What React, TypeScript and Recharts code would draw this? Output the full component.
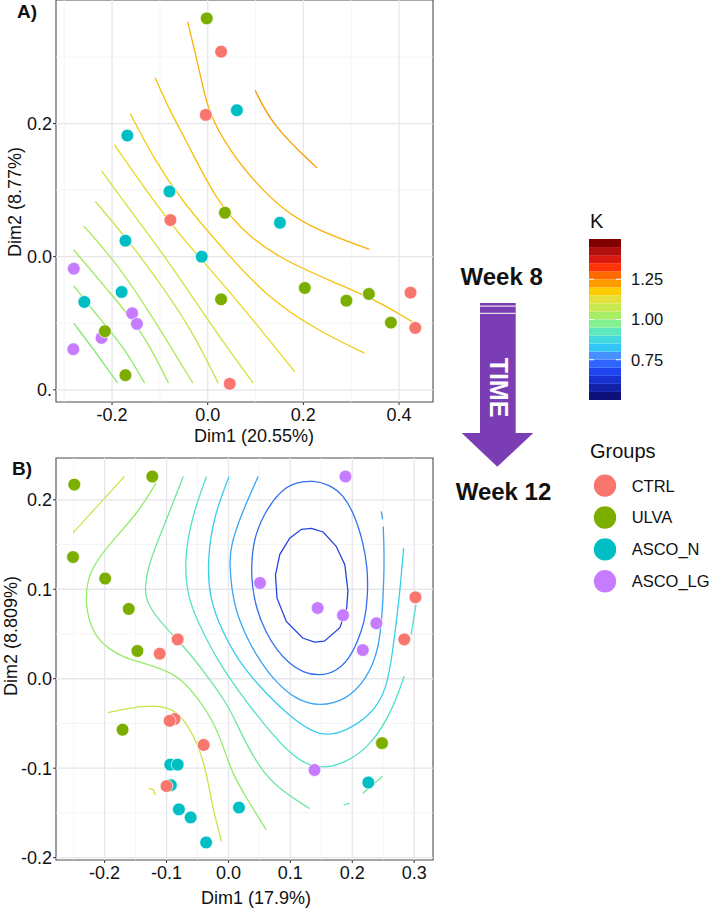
import { ScatterChart, Scatter, XAxis, YAxis, ReferenceLine, ReferenceArea, ComposedChart } from "recharts";

type Pt = [number, number];

// ---------- group colours ----------
const groupNames = ["CTRL", "ULVA", "ASCO_N", "ASCO_LG"];
const groupColors = ["#F8766D", "#7CAE00", "#00BFC4", "#C77CFF"];

// ---------- panel A: week 8 ----------
const ctrlA: Pt[] = [[0.028, 0.308], [-0.004, 0.213], [-0.078, 0.055], [0.424, -0.054], [0.434, -0.107], [0.046, -0.191]];
const ulvaA: Pt[] = [[-0.002, 0.358], [0.036, 0.066], [0.028, -0.064], [0.203, -0.047], [0.29, -0.066], [0.337, -0.056], [0.383, -0.099], [-0.215, -0.112], [-0.172, -0.178]];
const ascoNA: Pt[] = [[0.061, 0.22], [-0.168, 0.182], [-0.08, 0.098], [0.151, 0.051], [-0.172, 0.024], [-0.0125, 0.0], [-0.18, -0.053], [-0.258, -0.068]];
const ascoLGA: Pt[] = [[-0.28, -0.018], [-0.158, -0.085], [-0.148, -0.101], [-0.222, -0.122], [-0.281, -0.139]];

const contourA: Pt[][] = [
  [[-0.28, -0.1], [-0.238, -0.14], [-0.188, -0.19]],
  [[-0.28, -0.044], [-0.224, -0.095], [-0.176, -0.135], [-0.132, -0.19]],
  [[-0.28, 0.01], [-0.203, -0.055], [-0.134, -0.115], [-0.082, -0.19]],
  [[-0.259, 0.046], [-0.19, -0.01], [-0.12, -0.085], [-0.031, -0.19]],
  [[-0.235, 0.083], [-0.155, 0.015], [-0.085, -0.055], [-0.03, -0.115], [0.022, -0.19]],
  [[-0.222, 0.129], [-0.178, 0.085], [-0.13, 0.04], [-0.065, -0.025], [0.019, -0.115], [0.095, -0.19]],
  [[-0.195, 0.168], [-0.115, 0.085], [-0.044, 0.02], [0.019, -0.03], [0.095, -0.095], [0.182, -0.173]],
  [[-0.162, 0.215], [-0.115, 0.15], [-0.056, 0.085], [0.04, 0.005], [0.123, -0.06], [0.227, -0.11], [0.328, -0.145]],
  [[-0.11, 0.269], [-0.08, 0.22], [-0.038, 0.165], [0.017, 0.085], [0.085, 0.03], [0.158, -0.005], [0.262, -0.038], [0.352, -0.065], [0.428, -0.098]],
  [[-0.042, 0.353], [-0.024, 0.3], [-0.01, 0.255], [0.003, 0.215], [0.045, 0.16], [0.101, 0.11], [0.158, 0.07], [0.227, 0.04], [0.338, 0.011]],
  [[0.099, 0.25], [0.137, 0.195], [0.229, 0.133]],
];
const contourAColors = ["#86e874", "#92ea6a", "#a2ea60", "#b2e958", "#c4e64c", "#d8e03a", "#e8d820", "#f4cb10", "#fabf08", "#fbb102", "#fa9a00"];

const xTicksA = [-0.2, 0, 0.2, 0.4];
const xTickTextA = ["-0.2", "0.0", "0.2", "0.4"];
const yTicksA = [-0.2, 0, 0.2];
const yTickTextA = ["0.", "0.0", "0.2"];
const xMinorA = [-0.3, -0.1, 0.1, 0.3];
const yMinorA = [-0.1, 0.1, 0.3];

// ---------- panel B: week 12 ----------
const ctrlB: Pt[] = [[-0.082, 0.044], [-0.111, 0.028], [-0.087, -0.045], [-0.095, -0.047], [-0.04, -0.074], [-0.1, -0.12], [0.302, 0.091], [0.284, 0.044]];
const ulvaB: Pt[] = [[-0.249, 0.217], [-0.123, 0.226], [-0.251, 0.136], [-0.199, 0.112], [-0.161, 0.078], [-0.147, 0.031], [-0.171, -0.057], [0.248, -0.072]];
const ascoNB: Pt[] = [[-0.094, -0.096], [-0.082, -0.096], [-0.093, -0.119], [-0.08, -0.146], [-0.061, -0.155], [-0.036, -0.183], [0.017, -0.144], [0.226, -0.116]];
const ascoLGB: Pt[] = [[0.051, 0.107], [0.144, 0.079], [0.189, 0.226], [0.185, 0.071], [0.239, 0.062], [0.217, 0.032], [0.139, -0.102]];

const contourB: Pt[][] = [
  [[-0.251, 0.163], [-0.209, 0.195], [-0.168, 0.226]],
  [[-0.129, -0.1226], [-0.1216, -0.1238], [-0.118, -0.13]],
  [[-0.195, -0.038], [-0.16, -0.033], [-0.123, -0.0294], [-0.09, -0.033], [-0.069, -0.048], [-0.047, -0.076], [-0.034, -0.11], [-0.026, -0.143], [-0.011, -0.182]],
  [[-0.117, 0.219], [-0.144, 0.187], [-0.198, 0.146], [-0.225, 0.12], [-0.233, 0.0865], [-0.219, 0.049], [-0.192, 0.0325], [-0.166, 0.023], [-0.144, 0.019], [-0.101, 0.0097], [-0.074, -0.0015], [-0.047, -0.024], [-0.026, -0.046], [-0.01, -0.072], [0.006, -0.106], [0.028, -0.132], [0.061, -0.169]],
  [[-0.073, 0.226], [-0.101, 0.176], [-0.128, 0.131], [-0.136, 0.101], [-0.131, 0.083], [-0.106, 0.06], [-0.074, 0.038], [-0.037, 0.006], [0.001, -0.031], [0.018, -0.058], [0.05, -0.1], [0.083, -0.124], [0.131, -0.145]],
  [[0.186, -0.141], [0.196, -0.139]],
  [[0.217, -0.128], [0.249, -0.109]],
  [[-0.0355, 0.226], [-0.058, 0.183], [-0.0716, 0.135], [-0.066, 0.09], [-0.047, 0.06], [-0.02, 0.023], [0.018, -0.016], [0.061, -0.054], [0.099, -0.084], [0.139, -0.102], [0.19, -0.095], [0.233, -0.072], [0.265, -0.035], [0.284, 0.003]],
  [[0.295, 0.049], [0.303, 0.083]],
  [[0.001, 0.226], [-0.023, 0.183], [-0.034, 0.135], [-0.031, 0.09], [-0.01, 0.053], [0.015, 0.021], [0.05, -0.009], [0.099, -0.0425], [0.147, -0.0656], [0.19, -0.0592], [0.233, -0.0387], [0.255, -0.0127], [0.265, 0.028], [0.276, 0.09], [0.283, 0.146]],
  [[0.048, 0.226], [0.022, 0.186], [0.004, 0.15], [0.001, 0.128], [0.009, 0.079], [0.028, 0.049], [0.04, 0.032], [0.072, -0.0015], [0.11, -0.024], [0.147, -0.031], [0.19, -0.024], [0.222, -0.0015], [0.244, 0.032], [0.25, 0.09], [0.252, 0.135], [0.25, 0.17]],
  [[0.247, 0.187], [0.249, 0.178]],
  [[0.137, 0.2215], [0.163, 0.217], [0.185, 0.206], [0.204, 0.183], [0.217, 0.154], [0.225, 0.124], [0.225, 0.09], [0.22, 0.064], [0.209, 0.042], [0.195, 0.022], [0.174, 0.008], [0.147, 0.003], [0.12, 0.007], [0.098, 0.017], [0.078, 0.032], [0.06, 0.052], [0.045, 0.078], [0.038, 0.105], [0.037, 0.124], [0.04, 0.154], [0.056, 0.183], [0.083, 0.21], [0.11, 0.22]],
  [[0.134, 0.168], [0.153, 0.164], [0.174, 0.148], [0.188, 0.1275], [0.193, 0.098], [0.191, 0.079], [0.18, 0.057], [0.155, 0.042], [0.139, 0.041], [0.12, 0.0455], [0.0935, 0.064], [0.0785, 0.09], [0.076, 0.116], [0.083, 0.139], [0.099, 0.157], [0.118, 0.167]],
];
const contourBColors = ["#c8e64c", "#e2dc2a", "#c2e84c", "#94ec6c", "#6ee6a0", "#6ee6a0", "#6ee6a0", "#54e0c8", "#54e0c8", "#38cdec", "#3aa4f4", "#3aa4f4", "#3070f0", "#2544dc"];
const contourBCurves = ["basis", "linear", "basis", "basis", "basis", "linear", "linear", "basis", "linear", "basis", "basis", "linear", "basisClosed", "linearClosed"];

const xTicksB = [-0.2, -0.1, 0, 0.1, 0.2, 0.3];
const xTickTextB = ["-0.2", "-0.1", "0.0", "0.1", "0.2", "0.3"];
const yTicksB = [-0.2, -0.1, 0, 0.1, 0.2];
const yTickTextB = ["-0.2", "-0.1", "0.0", "0.1", "0.2"];
const xMinorB = [-0.25, -0.15, -0.05, 0.05, 0.15, 0.25];
const yMinorB = [-0.15, -0.05, 0.05, 0.15];

// ---------- K colour bar ----------
const kBandLo = [0.5, 0.55, 0.6, 0.65, 0.7, 0.75, 0.8, 0.85, 0.9, 0.95, 1.0, 1.05, 1.1, 1.15, 1.2, 1.25, 1.3, 1.35, 1.4, 1.45];
const kBandColors = ["#0c1078", "#1222a8", "#1832d2", "#1e44f0", "#3064ff", "#4690ff", "#32c6f6", "#42dade", "#5ee8bc", "#84f090", "#a6ee66", "#c8e850", "#e6e03e", "#ffcc00", "#ff9c00", "#ff6a00", "#ff3408", "#d81a10", "#b01010", "#800000"];
const kTicks = [0.75, 1.0, 1.25];

const FONT = "'Liberation Sans', Arial, Helvetica, sans-serif";
const INK = "#111";

const asXY = (pts: Pt[]) => pts.map(([x, y]) => ({ x, y }));
const NoDot = () => <g />;

function XTitle({ viewBox, text, dx, base }: any) {
  const { x, y, width, height } = viewBox;
  return (
    <text x={x + width / 2 + dx} y={y + height - base} textAnchor="middle" fontSize={18} fill={INK}>
      {text}
    </text>
  );
}

function YTitle({ viewBox, text, bx, dy }: any) {
  const cy = viewBox.y + viewBox.height / 2 + dy;
  return (
    <text transform={`translate(${bx},${cy}) rotate(-90)`} textAnchor="middle" fontSize={18} fill={INK}>
      {text}
    </text>
  );
}

function Panel(p: any) {
  const groups = [
    { name: groupNames[3], color: groupColors[3], pts: p.groups[3] },
    { name: groupNames[2], color: groupColors[2], pts: p.groups[2] },
    { name: groupNames[1], color: groupColors[1], pts: p.groups[1] },
    { name: groupNames[0], color: groupColors[0], pts: p.groups[0] },
  ];
  return (
    <ScatterChart width={440} height={p.height} margin={{ top: p.mTop, right: 7, bottom: 0, left: 0 }}>
      <XAxis
        type="number"
        dataKey="x"
        domain={p.xDomain}
        allowDataOverflow
        ticks={p.xTicks}
        interval={0}
        tickFormatter={(v: number) => p.xTickText[p.xTicks.indexOf(v)]}
        axisLine={false}
        tickLine={{ stroke: "#333" }}
        tickSize={3}
        tickMargin={3}
        height={p.xAxisH}
        tick={{ fill: INK, fontSize: 18 }}
        label={{ content: (lp: any) => <XTitle viewBox={lp.viewBox} text={p.xTitle} dx={p.xTitleDx} base={p.xTitleBase} /> }}
      />
      <YAxis
        type="number"
        dataKey="y"
        domain={p.yDomain}
        allowDataOverflow
        ticks={p.yTicks}
        interval={0}
        tickFormatter={(v: number) => p.yTickText[p.yTicks.indexOf(v)]}
        axisLine={false}
        tickLine={{ stroke: "#333" }}
        tickSize={3}
        tickMargin={1}
        width={56}
        tick={{ fill: INK, fontSize: 18 }}
        label={{ content: (lp: any) => <YTitle viewBox={lp.viewBox} text={p.yTitle} bx={p.yTitleX} dy={p.yTitleDy} /> }}
      />
      {p.xMinor.map((v: number) => (
        <ReferenceLine key={"xm" + v} x={v} stroke="#f0f0f4" strokeWidth={0.7} />
      ))}
      {p.yMinor.map((v: number) => (
        <ReferenceLine key={"ym" + v} y={v} stroke="#f0f0f4" strokeWidth={0.7} />
      ))}
      {p.xTicks.map((v: number) => (
        <ReferenceLine key={"xM" + v} x={v} stroke="#e6e6eb" strokeWidth={1.3} />
      ))}
      {p.yTicks.map((v: number) => (
        <ReferenceLine key={"yM" + v} y={v} stroke="#e6e6eb" strokeWidth={1.3} />
      ))}
      {p.contours.map((c: Pt[], i: number) => (
        <Scatter
          key={"c" + i}
          data={asXY(c)}
          line={{ stroke: p.contourColors[i], strokeWidth: 1.3 }}
          lineJointType={(p.contourCurves ? p.contourCurves[i] : "basis") as any}
          shape={NoDot}
          isAnimationActive={false}
        />
      ))}
      {groups.map((g) => (
        <Scatter
          key={g.name}
          data={asXY(g.pts)}
          shape={(sp: any) => <circle cx={sp.cx} cy={sp.cy} r={6.4} fill={g.color} stroke="#fff" strokeWidth={0.7} />}
          isAnimationActive={false}
        />
      ))}
      <ReferenceArea
        x1={p.xDomain[0]}
        x2={p.xDomain[1]}
        y1={p.yDomain[0]}
        y2={p.yDomain[1]}
        fill="none"
        stroke="#4d4d4d"
        strokeWidth={1.1}
      />
    </ScatterChart>
  );
}

function KBar() {
  return (
    <ComposedChart width={90} height={161} data={kBandLo.map((lo) => ({ lo }))} margin={{ top: 0, right: 0, bottom: 0, left: 0 }}>
      <XAxis type="number" domain={[0, 1]} hide />
      <YAxis
        type="number"
        orientation="right"
        domain={[0.5, 1.5]}
        allowDataOverflow
        ticks={kTicks}
        interval={0}
        tickFormatter={(v: number) => v.toFixed(2)}
        axisLine={false}
        tickLine={false}
        tickSize={0}
        tickMargin={10}
        width={58}
        tick={{ fill: INK, fontSize: 16.5 }}
      />
      {kBandLo.map((lo, i) => (
        <ReferenceArea key={"k" + i} y1={lo} y2={lo + 0.05} fill={kBandColors[i]} fillOpacity={1} stroke="none" />
      ))}
      {kTicks.map((v) => (
        <ReferenceLine key={"kt" + v} y={v} stroke="#fff" strokeWidth={1} strokeDasharray="5 22 5" />
      ))}
    </ComposedChart>
  );
}

export default function App() {
  return (
    <div style={{ position: "absolute", left: 0, top: 0, width: 709, height: 908, background: "#fff", fontFamily: FONT, color: INK }}>
      <div style={{ position: "absolute", left: 0, top: 0 }}>
        <Panel
          height={452}
          mTop={0}
          xAxisH={50}
          xDomain={[-0.3172, 0.471]}
          yDomain={[-0.2183, 0.3856]}
          xTicks={xTicksA}
          xTickText={xTickTextA}
          yTicks={yTicksA}
          yTickText={yTickTextA}
          xMinor={xMinorA}
          yMinor={yMinorA}
          contours={contourA}
          contourColors={contourAColors}
          groups={[ctrlA, ulvaA, ascoNA, ascoLGA]}
          xTitle="Dim1 (20.55%)"
          xTitleDx={9.5}
          xTitleBase={9.6}
          yTitle="Dim2 (8.77%)"
          yTitleX={21.4}
          yTitleDy={1}
        />
      </div>
      <div style={{ position: "absolute", left: 0, top: 450 }}>
        <Panel
          height={458}
          mTop={8}
          xAxisH={48}
          xDomain={[-0.2785, 0.3304]}
          yDomain={[-0.2026, 0.2467]}
          xTicks={xTicksB}
          xTickText={xTickTextB}
          yTicks={yTicksB}
          yTickText={yTickTextB}
          xMinor={xMinorB}
          yMinor={yMinorB}
          contours={contourB}
          contourColors={contourBColors}
          contourCurves={contourBCurves}
          groups={[ctrlB, ulvaB, ascoNB, ascoLGB]}
          xTitle="Dim1 (17.9%)"
          xTitleDx={11.5}
          xTitleBase={3.6}
          yTitle="Dim2 (8.809%)"
          yTitleX={16.5}
          yTitleDy={-23}
        />
      </div>
      <svg width={709} height={908} style={{ position: "absolute", left: 0, top: 0, pointerEvents: "none" }}>
        <text x={17} y={17.5} fontSize={19} fontWeight="bold" fill={INK}>A)</text>
        <text x={12} y={475} fontSize={19} fontWeight="bold" fill={INK}>B)</text>
        <text x={501.7} y={285} textAnchor="middle" fontSize={24} fontWeight="bold" fill={INK}>Week 8</text>
        <polygon points="480,303 515.7,303 515.7,433 533.3,433 497.3,466.7 461.7,433 480,433" fill="#7b3db4" />
        <rect x={480} y={305.6} width={35.7} height={1} fill="#fff" />
        <rect x={480} y={312.8} width={35.7} height={1} fill="#fff" />
        <text transform="translate(489.5,387.5) rotate(90)" textAnchor="middle" fontSize={25} fontWeight="bold" fill="#fff">TIME</text>
        <text x={503.5} y={500} textAnchor="middle" fontSize={24} fontWeight="bold" fill={INK}>Week 12</text>
        <text x={590} y={228.3} fontSize={20} fill={INK}>K</text>
        <text x={590} y={457.5} fontSize={20} fill={INK}>Groups</text>
        {groupNames.map((name, i) => (
          <g key={name}>
            <circle cx={605} cy={485.6 + 31.9 * i} r={11.2} fill={groupColors[i]} />
            <text x={631.7} y={485.6 + 31.9 * i + 5.9} fontSize={16.5} fill={INK}>{name}</text>
          </g>
        ))}
      </svg>
      <div style={{ position: "absolute", left: 589.3, top: 239.3 }}>
        <KBar />
      </div>
    </div>
  );
}
